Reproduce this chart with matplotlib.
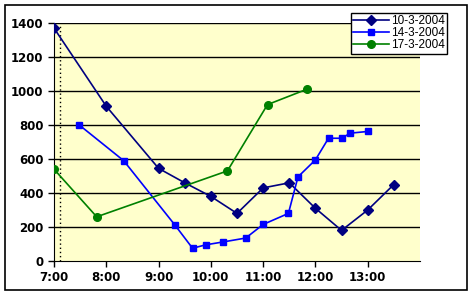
import matplotlib
matplotlib.use('Agg')
import matplotlib.pyplot as plt
from matplotlib.patches import Rectangle

# times (hh:mm), values in units
t_10 = ['7:00', '8:00', '9:00', '9:30', '10:00', '10:30', '11:00', '11:30',
        '12:00', '12:30', '13:00', '13:30']
v_10 = [1370, 910, 545, 460, 380, 280, 430, 460, 310, 180, 300, 450]

t_14 = ['7:29', '8:20', '9:19', '9:39', '9:54', '10:14', '10:40', '11:00',
        '11:29', '11:40', '12:00', '12:15', '12:30', '12:40', '13:00']
v_14 = [800, 590, 210, 75, 95, 112, 135, 215, 280, 495, 595, 722, 722, 752, 762]

t_17 = ['7:00', '7:49', '10:19', '11:05', '11:50']
v_17 = [540, 260, 530, 920, 1010]

xticklabels = ['7:00', '8:00', '9:00', '10:00', '11:00', '12:00', '13:00']
yticks = [0, 200, 400, 600, 800, 1000, 1200, 1400]


def hours(t):
    h, m = t.split(':')
    return int(h) + int(m) / 60.0


fig = plt.figure(figsize=(4.75, 2.95), dpi=100)
fig.patches.append(Rectangle((5 / 475, 5 / 295), 462 / 475, 285 / 295,
                             transform=fig.transFigure, fill=False,
                             edgecolor='black', linewidth=1.2))
ax = fig.add_axes([54 / 475, 34 / 295, 366 / 475, 238 / 295])
ax.set_facecolor('#FFFFCC')

for y in yticks[1:]:
    ax.axhline(y, color='black', linewidth=1, zorder=1)
ax.plot([hours('7:07')] * 2, [0, 1400], color='black', linestyle=(0, (1, 2)),
        linewidth=1, zorder=1)

ax.plot([hours(t) for t in t_10], v_10, color='#000080', marker='D',
        markersize=5.5, linewidth=1.2, label='10-3-2004', zorder=3)
ax.plot([hours(t) for t in t_14], v_14, color='#0000FF', marker='s',
        markersize=5, linewidth=1.2, label='14-3-2004', zorder=3)
ax.plot([hours(t) for t in t_17], v_17, color='#008000', marker='o',
        markersize=5.5, linewidth=1.2, label='17-3-2004', zorder=3)

ax.set_xlim(7, 14)
ax.set_ylim(0, 1400)
ax.set_xticks([hours(t) for t in xticklabels])
ax.set_xticklabels(xticklabels)
ax.set_yticks(yticks)
for lab in ax.get_xticklabels() + ax.get_yticklabels():
    lab.set_fontweight('bold')
    lab.set_fontsize(8.5)
ax.tick_params(direction='out', length=4, width=1, color='black')
ax.spines['top'].set_visible(False)
ax.spines['right'].set_visible(False)

leg = ax.legend(loc='upper left', bbox_to_anchor=(351 / 475, 1 - 13 / 295),
                bbox_transform=fig.transFigure, frameon=True, fancybox=False,
                framealpha=1, prop={'family': 'Liberation Sans', 'size': 8.5},
                handlelength=3.0, borderpad=0.2, labelspacing=0.0,
                handletextpad=0.2, borderaxespad=0)
leg.get_frame().set_edgecolor('black')
leg.get_frame().set_linewidth(1)

fig.savefig('out.png', dpi=100)
